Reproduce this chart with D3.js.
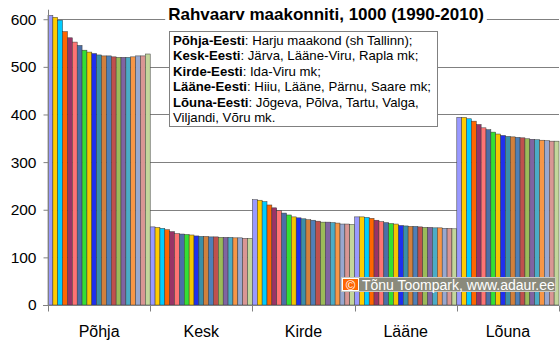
<!DOCTYPE html>
<html><head><meta charset="utf-8">
<script src="https://cdn.jsdelivr.net/npm/d3@7"></script>
<style>body{margin:0;background:#fff}svg{display:block;font-family:"Liberation Sans",Arial,sans-serif}</style>
</head><body><svg id="c" width="560" height="342"></svg>
<script>
const categories = ["Põhja","Kesk","Kirde","Lääne","Lõuna"];
const years = d3.range(1990, 2011).map(String);
const pohja = [608,604,598,574,561,552,545,535,531,528,525,523,523,521,520,520,520,521,523,523,527];
const kesk  = [164,163,161,158,154,150,149,148,147,145,144,144,143,143,142,142,142,141,141,140,140];
const kirde = [221,220,217,210,204,198,193,189,185,183,181,179,178,176,174,174,173,172,170,170,169];
const laane = [185,185,184,182,178,175,173,171,170,167,166,165,165,164,163,163,162,162,161,161,160];
const louna = [394,394,391,386,379,372,368,363,359,356,354,353,352,351,349,348,347,346,345,344,344];
const seriesValues = [pohja, kesk, kirde, laane, louna];
const yTicks = [0,100,200,300,400,500,600];
const title = "Rahvaarv maakonniti, 1000 (1990-2010)";
const noteLines = [
  ["Põhja-Eesti", ": Harju maakond (sh Tallinn);"],
  ["Kesk-Eesti", ": Järva, Lääne-Viru, Rapla mk;"],
  ["Kirde-Eesti", ": Ida-Viru mk;"],
  ["Lääne-Eesti", ": Hiiu, Lääne, Pärnu, Saare mk;"],
  ["Lõuna-Eesti", ": Jõgeva, Põlva, Tartu, Valga,"],
  ["", "Viljandi, Võru mk."]
];
const copyright = "Tõnu Toompark, www.adaur.ee";
const colors = ["#9999FF","#FFCC00","#00CCFF","#FF6600","#993366","#FF7373","#4B6EA8","#33E033","#F5C400","#1F2FEF","#3A8FA8","#D2803C","#4F7FB8","#C0504D","#9BBB59","#8064A2","#4BACC6","#F79646","#98A8D0","#D99694","#C3D69B"];

const svg = d3.select("#c");
const L = 48, R = 559, T = 9.7, B = 305;
const x0 = d3.scaleBand().domain(categories).range([L, R]).padding(0);
const x1 = d3.scaleBand().domain(years).range([0, x0.bandwidth()]).padding(0);
const y = d3.scaleLinear().domain([0, 620]).range([B, T]);
const gray = "#808080";

// gridlines
svg.append("g").selectAll("line").data(yTicks.filter(d => d > 0)).join("line")
  .attr("x1", L).attr("x2", R).attr("y1", d => Math.round(y(d)) + 0.5).attr("y2", d => Math.round(y(d)) + 0.5)
  .attr("stroke", gray).attr("stroke-width", 1);

// bars
const g = svg.append("g");
categories.forEach((cat, ci) => {
  g.append("g").selectAll("rect").data(seriesValues[ci]).join("rect")
    .attr("x", (d, i) => x0(cat) + x1(years[i]))
    .attr("y", d => y(d))
    .attr("width", x1.bandwidth())
    .attr("height", d => B - y(d))
    .attr("fill", (d, i) => colors[i])
    .attr("stroke", "#3a3a3a").attr("stroke-width", 0.5);
});

// y axis
const yAxis = d3.axisLeft(y).tickValues(yTicks).tickSize(5).tickPadding(7);
const ya = svg.append("g").attr("transform", `translate(${L + 0.5},0)`).call(yAxis);
ya.select(".domain").attr("stroke", gray).attr("d", `M0,${T}V${B}`);
ya.selectAll(".tick line").attr("stroke", gray);
ya.selectAll(".tick text").attr("font-size", 15.5).attr("fill", "#000").attr("font-family", "Liberation Sans, Arial");

// x axis
const xa = svg.append("g").attr("transform", `translate(0,${B + 0.5})`);
xa.append("line").attr("x1", L - 5).attr("x2", R).attr("stroke", gray);
const bounds = categories.map(c => x0(c)).concat([R]);
xa.selectAll("line.t").data(bounds).join("line").attr("class", "t")
  .attr("x1", d => Math.round(d) + 0.5).attr("x2", d => Math.round(d) + 0.5).attr("y1", 0).attr("y2", 6).attr("stroke", gray);
xa.selectAll("text").data(categories).join("text")
  .attr("x", d => x0(d) + x0.bandwidth() / 2).attr("y", 31.5)
  .attr("text-anchor", "middle").attr("font-size", 16).text(d => d);

// title
const tg = svg.append("g");
const tt = tg.append("text").attr("x", 326).attr("y", 20).attr("text-anchor", "middle")
  .attr("font-size", 17).attr("font-weight", "bold").text(title);
const tb = tt.node().getBBox();
tg.insert("rect", "text").attr("x", tb.x - 3).attr("y", 2).attr("width", tb.width + 6).attr("height", 22).attr("fill", "#fff");

// note box
const ng = svg.append("g");
ng.append("rect").attr("x", 169.5).attr("y", 31.5).attr("width", 268).attr("height", 95)
  .attr("fill", "#fff").attr("stroke", gray);
noteLines.forEach((ln, i) => {
  const t = ng.append("text").attr("x", 173).attr("y", 44.5 + i * 15.5).attr("font-size", 13.2);
  if (ln[0]) t.append("tspan").attr("font-weight", "bold").text(ln[0]);
  t.append("tspan").text(ln[1]);
});

// copyright
const cg = svg.append("g");
cg.append("rect").attr("x", 341.5).attr("y", 277.5).attr("width", 214).attr("height", 14).attr("fill", "#8A8A7C").attr("stroke", "#C8C8C0");
cg.append("rect").attr("x", 342.5).attr("y", 278.5).attr("width", 16).attr("height", 12).attr("fill", "#FF6600").attr("stroke", "#fff");
cg.append("text").attr("x", 350.5).attr("y", 289.5).attr("text-anchor", "middle").attr("font-size", 13).attr("fill", "#fff").text("©");
cg.append("text").attr("x", 362).attr("y", 289.5).attr("font-size", 14).attr("fill", "#fff").text(copyright);
</script></body></html>
